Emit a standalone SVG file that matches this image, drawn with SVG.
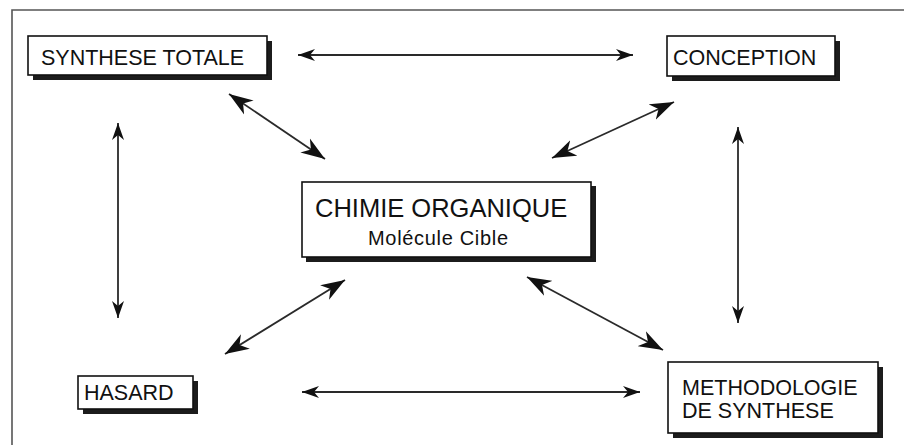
<svg xmlns="http://www.w3.org/2000/svg" width="904" height="445" viewBox="0 0 904 445">
<style>
.frame{fill:none;stroke:#555;stroke-width:1.6}
.shadow{fill:#1c1c1c}
.box{fill:#fff;stroke:#111;stroke-width:1.6}
.t{font-family:"Liberation Sans",Arial,sans-serif;fill:#111}
.c{stroke:#2a2a2a;stroke-width:1.8;fill:none}
.big{marker-start:url(#hb);marker-end:url(#hb)}
.small{marker-start:url(#hs);marker-end:url(#hs)}
</style>
<defs>
<marker id="hb" viewBox="-24 -9 26 18" refX="0" refY="0" markerWidth="26" markerHeight="18" markerUnits="userSpaceOnUse" orient="auto-start-reverse">
<path d="M0,0 L-24,-8.5 L-17,0 L-24,8.5 z" fill="#111"/>
</marker>
<marker id="hs" viewBox="-18 -7 20 14" refX="0" refY="0" markerWidth="20" markerHeight="14" markerUnits="userSpaceOnUse" orient="auto-start-reverse">
<path d="M0,0 L-17,-6 L-12,0 L-17,6 z" fill="#111"/>
</marker>
</defs>
<rect width="904" height="445" fill="#fff"/>
<path class="frame" d="M12,445 V10 H904"/>

<g id="synthese-totale">
<rect class="shadow" x="33" y="41" width="239" height="39"/>
<rect class="box" x="28" y="36" width="239" height="39"/>
<text class="t" x="41" y="65" font-size="21.5">SYNTHESE TOTALE</text>
</g>
<g id="conception">
<rect class="shadow" x="672" y="41" width="168" height="40"/>
<rect class="box" x="667" y="36" width="168" height="40"/>
<text class="t" x="673" y="65" font-size="21.5">CONCEPTION</text>
</g>
<g id="chimie-organique">
<rect class="shadow" x="306" y="186" width="290" height="76"/>
<rect class="box" x="302" y="182" width="289" height="75"/>
<text class="t" x="315" y="217" font-size="25.5">CHIMIE ORGANIQUE</text>
<text class="t" x="368" y="245" font-size="20" textLength="140" lengthAdjust="spacing">Molécule Cible</text>
</g>
<g id="hasard">
<rect class="shadow" x="83" y="381" width="115" height="33"/>
<rect class="box" x="78" y="376" width="115" height="33"/>
<text class="t" x="84" y="400" font-size="21.5">HASARD</text>
</g>
<g id="methodologie">
<rect class="shadow" x="673" y="367" width="210" height="71"/>
<rect class="box" x="668" y="362" width="210" height="71"/>
<text class="t" x="682" y="395" font-size="21.5">METHODOLOGIE</text>
<text class="t" x="682" y="418" font-size="21.5">DE SYNTHESE</text>
</g>

<g id="connectors">
<line class="c small" x1="298" y1="55" x2="633" y2="55"/>
<line class="c small" x1="302" y1="392" x2="640" y2="392"/>
<line class="c small" x1="118" y1="123" x2="118" y2="318"/>
<line class="c small" x1="738" y1="127" x2="738" y2="323"/>
<line class="c big" x1="229" y1="94" x2="325" y2="159"/>
<line class="c big" x1="674" y1="102" x2="552" y2="158"/>
<line class="c big" x1="345" y1="280" x2="225" y2="354"/>
<line class="c big" x1="527" y1="277" x2="663" y2="350"/>
</g>
</svg>
